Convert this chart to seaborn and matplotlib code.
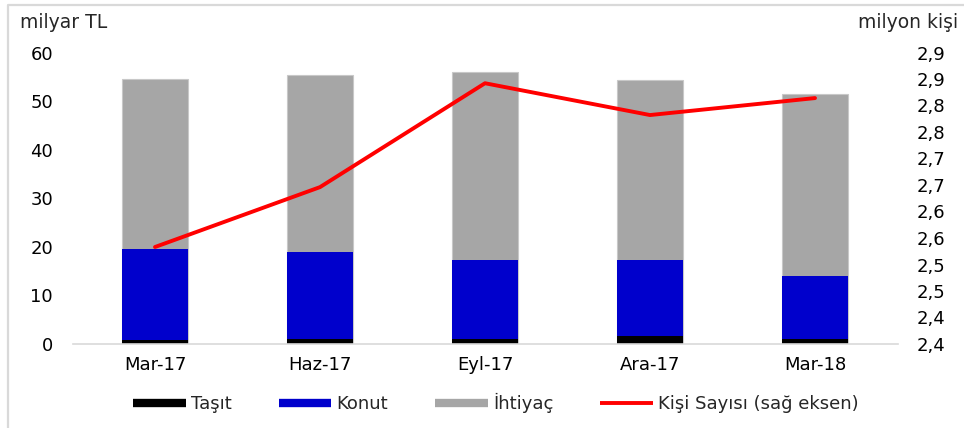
import numpy as np
import pandas as pd
import seaborn as sns
import matplotlib
matplotlib.use("Agg")
import matplotlib.pyplot as plt
from matplotlib.lines import Line2D

# ---- data ----
categories = ["Mar-17", "Haz-17", "Eyl-17", "Ara-17", "Mar-18"]
tasit = [0.8, 1.1, 1.1, 1.6, 1.1]
konut = [18.8, 17.8, 16.2, 15.6, 12.8]
ihtiyac = [35.0, 36.4, 38.6, 37.2, 37.6]
kisi_sayisi = [2.533, 2.646, 2.842, 2.782, 2.814]

left_ticks = [0, 10, 20, 30, 40, 50, 60]
right_ticks = [2.35, 2.40, 2.45, 2.50, 2.55, 2.60, 2.65, 2.70, 2.75, 2.80, 2.85, 2.90]
right_tick_labels = ["2,4", "2,4", "2,5", "2,5", "2,6", "2,6",
                     "2,7", "2,7", "2,8", "2,8", "2,9", "2,9"]

series_names = ["Taşıt", "Konut", "İhtiyaç", "Kişi Sayısı (sağ eksen)"]
colors = {"Taşıt": "#000000", "Konut": "#0000CC", "İhtiyaç": "#A6A6A6",
          "line": "#FF0000"}

sns.set_theme(style="white")
plt.rcParams["font.family"] = ["DejaVu Sans"]
FS = 13

df = pd.DataFrame({"cat": categories, "tasit": tasit, "konut": konut,
                   "ihtiyac": ihtiyac, "kisi": kisi_sayisi})
df["lvl_konut"] = df["tasit"] + df["konut"]
df["lvl_total"] = df["lvl_konut"] + df["ihtiyac"]

fig = plt.figure(figsize=(9.64, 4.28), dpi=100)
ax = fig.add_axes([72.5 / 964, 1 - 344 / 428, 825 / 964, 291.5 / 428])

sns.barplot(data=df, x="cat", y="lvl_total", color=colors["İhtiyaç"],
            saturation=1, width=0.4, edgecolor="#C8C8C8", linewidth=0.8, ax=ax)
sns.barplot(data=df, x="cat", y="lvl_konut", color=colors["Konut"],
            saturation=1, width=0.4, linewidth=0, ax=ax)
sns.barplot(data=df, x="cat", y="tasit", color=colors["Taşıt"],
            saturation=1, width=0.4, linewidth=0, ax=ax)

ax.set_xlim(-0.5, len(categories) - 0.5)
ax.set_ylim(0, 60)
ax.set_yticks(left_ticks)
ax.set_xlabel("")
ax.set_ylabel("")
for s in ["top", "right", "left"]:
    ax.spines[s].set_visible(False)
ax.spines["bottom"].set_color("#D9D9D9")
ax.spines["bottom"].set_linewidth(1.2)
ax.tick_params(axis="y", length=0, pad=14, labelsize=FS, labelcolor="#000000")
ax.tick_params(axis="x", which="major", length=0, pad=9, labelsize=FS,
               labelcolor="#000000")
ax.set_xticks(np.arange(-0.5, len(categories), 1.0), minor=True)
ax.tick_params(axis="x", which="minor", length=5, width=1.2, color="#D9D9D9",
               direction="out")

ax2 = ax.twinx()
sns.lineplot(x=np.arange(len(categories)), y=df["kisi"], ax=ax2,
             color=colors["line"], linewidth=2.8)
ax2.set_ylim(2.35, 2.90)
ax2.set_yticks(right_ticks)
ax2.set_yticklabels(right_tick_labels)
ax2.set_ylabel("")
for s in ["top", "right", "left", "bottom"]:
    ax2.spines[s].set_visible(False)
ax2.tick_params(axis="y", length=0, pad=14, labelsize=FS, labelcolor="#000000")
ax2.set_xlim(-0.5, len(categories) - 0.5)

# axis titles
fig.text(20 / 964, 1 - 22 / 428, "milyar TL", fontsize=FS + 0.5, ha="left", va="center")
fig.text(958 / 964, 1 - 22 / 428, "milyon kişi", fontsize=FS + 0.5, ha="right", va="center")

# legend
handles = [Line2D([], [], color=colors["Taşıt"], lw=6, solid_capstyle="butt"),
           Line2D([], [], color=colors["Konut"], lw=6, solid_capstyle="butt"),
           Line2D([], [], color=colors["İhtiyaç"], lw=6, solid_capstyle="butt"),
           Line2D([], [], color=colors["line"], lw=2.8, solid_capstyle="butt")]
fig.legend(handles, series_names, loc="center", ncol=4,
           bbox_to_anchor=(496 / 964, 1 - 403 / 428), frameon=False,
           fontsize=FS, handlelength=2.9, handletextpad=0.3, columnspacing=2.6)

# outer light frame (top and left edges visible)
fig.add_artist(Line2D([8 / 964, 8 / 964, 1.0], [0.0, 1 - 5 / 428, 1 - 5 / 428],
                      transform=fig.transFigure, color="#D9D9D9", lw=1.6))

fig.savefig("out.png", dpi=100)
